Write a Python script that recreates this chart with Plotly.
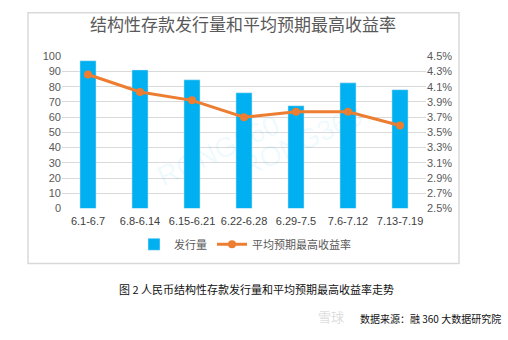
import plotly.graph_objects as go

categories = ["6.1-6.7", "6.8-6.14", "6.15-6.21", "6.22-6.28", "6.29-7.5", "7.6-7.12", "7.13-7.19"]
volume = [97, 91, 84.5, 76, 67.5, 82.5, 78]
rate = [4.26, 4.03, 3.92, 3.70, 3.77, 3.77, 3.59]
left_ticks = list(range(0, 101, 10))
right_ticks = [2.5, 2.7, 2.9, 3.1, 3.3, 3.5, 3.7, 3.9, 4.1, 4.3, 4.5]

W, H = 508, 340
def px(x): return x / W
def py(y): return 1 - y / H

FONT = "Liberation Sans, Arial, Noto Sans CJK SC, sans-serif"
CJK = "Noto Sans CJK SC, sans-serif"

fig = go.Figure()
fig.add_trace(go.Bar(x=categories, y=volume, name="发行量", marker_color="#00B0F0",
                     yaxis="y"))
fig.add_trace(go.Scatter(x=categories, y=rate, name="平均预期最高收益率", yaxis="y2",
                         mode="lines+markers", line=dict(color="#ED7D31", width=3),
                         marker=dict(color="#ED7D31", size=8)))

fig.update_layout(
    width=W, height=H, margin=dict(l=0, r=0, t=0, b=0),
    paper_bgcolor="white", plot_bgcolor="white",
    bargap=0.69,
    font=dict(family=FONT, size=11, color="#595959"),
    title=dict(text="结构性存款发行量和平均预期最高收益率", x=px(243), xanchor="center",
               y=py(25), yanchor="middle", font=dict(family=CJK, size=17, color="#595959")),
    xaxis=dict(domain=[px(62), px(426)], showgrid=False, showline=False, ticks="",
               tickfont=dict(size=11, color="#404040"), ticklabelstandoff=4),
    yaxis=dict(domain=[py(210), py(52)], range=[0, 100], tickvals=left_ticks,
               showgrid=True, gridcolor="#d9d9d9", gridwidth=1, zeroline=False,
               showline=False, ticks="", tickfont=dict(size=11, color="#595959")),
    yaxis2=dict(overlaying="y", side="right", range=[2.5, 4.5], tickvals=right_ticks,
                ticktext=[f"{v:.1f}%" for v in right_ticks], showgrid=False,
                zeroline=False, showline=False, ticks="",
                tickfont=dict(size=11, color="#595959")),
    legend=dict(orientation="h", x=px(245), xanchor="center", y=py(247), yanchor="middle",
                font=dict(family=CJK, size=11, color="#595959"), itemwidth=30,
                traceorder="normal"),
    showlegend=True,
)

fig.add_shape(type="rect", xref="paper", yref="paper", x0=px(28), x1=px(459),
              y0=py(267), y1=py(7), line=dict(color="#d9d9d9", width=1.5), layer="below")

fig.add_annotation(text="RONG360", xref="paper", yref="paper", x=px(150), y=py(150),
                   showarrow=False, textangle=-25,
                   font=dict(family=FONT, size=28, color="rgba(0,176,240,0.08)"))
fig.add_annotation(text="RONG360", xref="paper", yref="paper", x=px(370), y=py(140),
                   showarrow=False, textangle=-25,
                   font=dict(family=FONT, size=28, color="rgba(0,176,240,0.08)"))

fig.add_annotation(text="图 2 人民币结构性存款发行量和平均预期最高收益率走势", xref="paper", yref="paper",
                   x=px(117), y=py(293), xanchor="left", yanchor="middle", showarrow=False,
                   font=dict(family=CJK, size=11, color="#111111"))
fig.add_annotation(text="雪球", xref="paper", yref="paper",
                   x=px(316), y=py(322), xanchor="left", yanchor="middle", showarrow=False,
                   font=dict(family=CJK, size=13, color="#dddddd"))
fig.add_annotation(text="数据来源：融 360 大数据研究院", xref="paper", yref="paper",
                   x=px(503), y=py(324), xanchor="right", yanchor="middle", showarrow=False,
                   font=dict(family=CJK, size=10, color="#111111"))

fig.write_html("out.html")
